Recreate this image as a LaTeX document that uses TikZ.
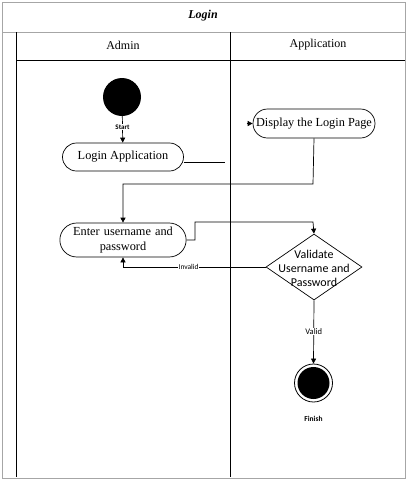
\documentclass[tikz,border=0pt]{standalone}
\usepackage{fontspec}
\setmainfont{Liberation Serif}
\newfontfamily\calib{Carlito}
\usetikzlibrary{shapes.geometric,shapes.misc,arrows.meta}
\tikzset{
  act/.style={draw, rounded rectangle, line width=0.7pt, minimum width=123pt, minimum height=28pt, align=center, font=\fontsize{12.3}{14}\selectfont, inner sep=1pt},
  dec/.style={draw, diamond, line width=0.7pt, minimum width=96pt, minimum height=66pt, inner sep=0pt},
  dectext/.style={align=center, font=\calib\fontsize{12}{14}\selectfont, inner sep=0pt},
  lbl/.style={font=\calib\fontsize{7.5}{8}\selectfont, fill=white, inner sep=0.5pt},
  conn/.style={line width=0.7pt},
  arr/.style={conn, -{Triangle[length=5pt,width=5pt]}},
  frame/.style={draw=gray!70, line width=1pt},
}
\begin{document}
\begin{tikzpicture}[x=1pt,y=-1pt]
\useasboundingbox (0,0) rectangle (407,480);
% frame
\draw[frame] (2,2) rectangle (405,478);
\draw[conn, gray!70] (2,32) -- (405,32);
\node[font=\bfseries\itshape\fontsize{12}{14}\selectfont] (title) at (203,16) {Login};
\draw[conn] (16,32) -- (16,477);
\draw[conn] (16,60) -- (405,60);
\draw[conn] (230,32) -- (230,477);
\node[font=\fontsize{12}{14}\selectfont] (hadmin) at (123,45) {Admin};
\node[font=\fontsize{12}{14}\selectfont] (happ) at (318,45) {Application};
% nodes
\node[circle, fill=black, minimum size=38pt, inner sep=0pt] (start) at (122,97) {};
\node[act] (login) at (123,157) {Login Application};
\node[act, minimum width=124pt, minimum height=29pt] (display) at (314,123.5) {Display the Login Page};
\node[act, minimum height=34pt, text width=112pt, font=\fontsize{12.3}{15}\selectfont] (enter) at (123,240) {Enter username and\\password};
\node[dec] (valid) at (314,267) {};
\node[dectext] (validtxt) at (314,268) {Validate\\Username and\\Password};
\node[circle, draw, line width=0.8pt, minimum size=38pt, inner sep=0pt] (finish) at (313.5,383) {};
\node[circle, fill=black, minimum size=32pt, inner sep=0pt] (finishin) at (finish) {};
\node[font=\calib\bfseries\fontsize{7.5}{8}\selectfont] (finlbl) at (313.5,419) {Finish};
% connectors
\draw[arr] (start) -- node[lbl, font=\calib\bfseries\fontsize{7}{8}\selectfont, pos=0.4] {Start} (login);
\coordinate (lend) at (225,162);
\draw[conn] (login.east |- lend) -- (lend);
\coordinate (dstart) at (246.5,123.5);
\draw[arr] (dstart) -- (display.west);
\draw[arr] (display.south) -- (313,184) -| (enter.north);
\draw[arr] (enter.east) -- (195,240) |- (313,222) -- (valid.north);
\draw[arr] (valid.west) -| node[lbl, pos=0.27] {Invalid} (enter.south);
\draw[arr] (valid.south) -- node[lbl, font=\calib\fontsize{8.5}{9}\selectfont, pos=0.5] {Valid} (finish.north);
\end{tikzpicture}
\end{document}
